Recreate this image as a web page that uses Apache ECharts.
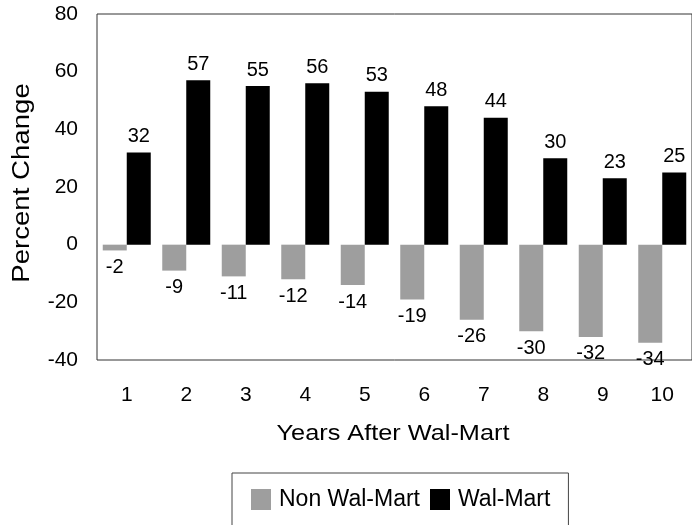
<!DOCTYPE html>
<html>
<head>
<meta charset="utf-8">
<script src="https://cdn.jsdelivr.net/npm/echarts@6/dist/echarts.min.js"></script>
<style>html,body{margin:0;padding:0;background:#fff}#c{width:692px;height:525px}</style>
</head>
<body>
<div id="c"></div>
<script>
var categories = ['1','2','3','4','5','6','7','8','9','10'];
var nonWalMart = [-2,-9,-11,-12,-14,-19,-26,-30,-32,-34];
var walMart = [32,57,55,56,53,48,44,30,23,25];
var yTicks = {min:-40, max:80, interval:20};
var xTitle = 'Years After Wal-Mart';
var yTitle = 'Percent Change';

var chart = echarts.init(document.getElementById('c'), null, {renderer:'canvas'});
var font = '"Liberation Sans", Arial, sans-serif';
chart.setOption({
  backgroundColor:'#fff',
  animation:false,
  textStyle:{fontFamily:font, color:'#000'},
  grid:{left:97, top:14, width:603, height:346, show:true, borderColor:'#333', borderWidth:1, backgroundColor:'transparent'},
  legend:{
    data:['Non Wal-Mart','Wal-Mart'],
    left:232, top:473,
    padding:[15,18,30,19],
    borderColor:'#444', borderWidth:1,
    itemWidth:20, itemHeight:21, itemGap:10,
    icon:'rect',
    textStyle:{fontSize:23, color:'#000', fontFamily:font, padding:[0,0,0,3]}
  },
  xAxis:{
    type:'category', data:categories,
    axisLine:{show:false, onZero:false},
    axisTick:{show:false},
    axisLabel:{fontSize:21, color:'#000', margin:25}
  },
  yAxis:{
    type:'value', min:yTicks.min, max:yTicks.max, interval:yTicks.interval,
    splitLine:{show:false},
    axisLine:{show:false},
    axisTick:{show:false},
    axisLabel:{fontSize:21, color:'#000', margin:19}
  },
  graphic:[
    {type:'text', x:393, y:434, scaleX:1.15, silent:true,
     style:{text:xTitle, fontSize:22, fontFamily:font, fill:'#000', align:'center', verticalAlign:'middle'}},
    {type:'text', x:23, y:183, rotation:Math.PI/2, scaleX:1.2, silent:true,
     style:{text:yTitle, fontSize:23, fontFamily:font, fill:'#000', align:'center', verticalAlign:'middle'}}
  ],
  series:[
    {name:'Non Wal-Mart', type:'bar', data:nonWalMart, barWidth:24, barGap:'0%',
     itemStyle:{color:'#9e9e9e'},
     label:{show:true, position:'bottom', distance:7, fontSize:20, color:'#000'}},
    {name:'Wal-Mart', type:'bar', data:walMart, barWidth:24, barGap:'0%',
     itemStyle:{color:'#000'},
     label:{show:true, position:'top', distance:6, fontSize:20, color:'#000'}}
  ]
});
</script>
</body>
</html>
